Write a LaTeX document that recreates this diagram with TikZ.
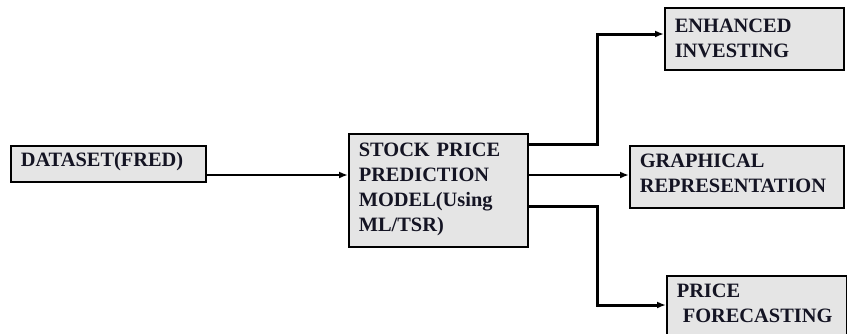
\documentclass[tikz,border=0pt]{standalone}
\usepackage{fontspec}
\setmainfont{Liberation Serif}
\usetikzlibrary{arrows.meta}
\definecolor{boxgray}{RGB}{229,229,229}
\definecolor{inkdark}{RGB}{20,20,35}

\begin{document}
\begin{tikzpicture}[x=1pt,y=-1pt,
    block/.style={draw, line width=1.6pt, fill=boxgray, anchor=north west,
      inner xsep=10pt, inner ysep=0pt, align=left, text=inkdark,
      font=\bfseries\fontsize{20.4}{25}\selectfont},
    link/.style={line width=2.4pt, -{Latex[length=9pt,width=7pt]}},
    elbow/.style={link, line width=3pt}]
  \useasboundingbox (0,0) rectangle (847,333);

  % boxes
  \node[block, text width=175pt, text height=21pt, text depth=15pt] (data) at (10,145) {DATASET(FRED)};
  \node[block, text width=159pt, text height=23pt, text depth=90pt] (model) at (348,133)
    {STOCK PRICE\\PREDICTION\\MODEL(Using\\ML/TSR)};
  \node[block, text width=159pt, text height=25pt, text depth=37pt] (enh) at (664,7) {ENHANCED\\INVESTING};
  \node[block, text width=194pt, text height=22pt, text depth=40pt] (graph) at (629,145) {GRAPHICAL\\REPRESENTATION};
  \node[block, text width=160pt, text height=22pt, text depth=48pt] (price) at (666,275) {PRICE\\\mbox{\hspace{6pt}FORECASTING}};

  % rows the connectors run along
  \coordinate (rowin) at (0,175);
  \coordinate (rowtop) at (0,144);
  \coordinate (rowlow) at (0,206);
  \coordinate (rowenh) at (0,34);
  \coordinate (rowprice) at (0,305);
  \coordinate (fork) at (597,0);

  \draw[link] (data.east |- rowin) -- (model.west |- rowin);
  \draw[link] (model.east |- rowin) -- (graph.west |- rowin);
  \draw[elbow] (model.east |- rowtop) -- (fork |- rowtop) -- (fork |- rowenh) -- (enh.west |- rowenh);
  \draw[elbow] (model.east |- rowlow) -- (fork |- rowlow) -- (fork |- rowprice) -- (price.west |- rowprice);
\end{tikzpicture}
\end{document}
